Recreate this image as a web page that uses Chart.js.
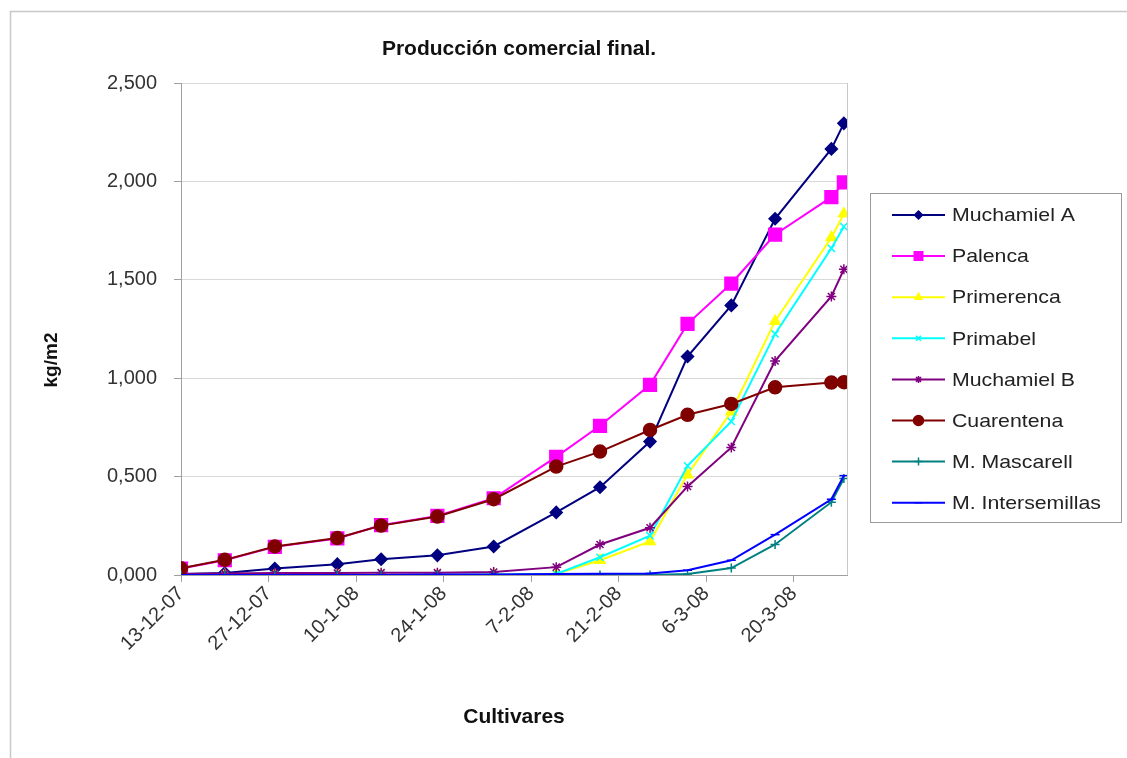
<!DOCTYPE html>
<html><head><meta charset="utf-8">
<script src="https://cdn.jsdelivr.net/npm/chart.js@4.4.1/dist/chart.umd.min.js"></script>
<style>html,body{margin:0;padding:0;background:#fff;overflow:hidden}#wrap{position:absolute;left:0;top:0;width:1127px;height:758px}</style>
</head><body><div id="wrap"><canvas id="c" width="1127" height="758"></canvas></div>
<script>
// ---- data ----
const startDate = '2007-12-13';
const dates = ['2007-12-13','2007-12-20','2007-12-28','2008-01-07','2008-01-14','2008-01-23','2008-02-01','2008-02-11','2008-02-18','2008-02-26','2008-03-03','2008-03-10','2008-03-17','2008-03-26','2008-03-28'];
const seriesNames = ['Muchamiel A','Palenca','Primerenca','Primabel','Muchamiel B','Cuarentena','M. Mascarell','M. Intersemillas'];
const muchamielA   = [0.005,0.010,0.033,0.055,0.080,0.100,0.145,0.318,0.446,0.678,1.110,1.370,1.810,2.165,2.295];
const palenca      = [0.033,0.075,0.143,0.186,0.253,0.300,0.390,0.600,0.758,0.966,1.276,1.481,1.730,1.920,1.995];
const primerenca   = [0.000,0.000,0.000,0.000,0.000,0.000,0.002,0.005,0.075,0.170,0.510,0.830,1.290,1.715,1.835];
const primabel     = [0.000,0.000,0.000,0.000,0.000,0.000,0.002,0.005,0.090,0.200,0.555,0.780,1.225,1.660,1.770];
const muchamielB   = [0.005,0.008,0.010,0.010,0.012,0.012,0.015,0.040,0.155,0.240,0.450,0.648,1.088,1.415,1.553];
const cuarentena   = [0.034,0.077,0.145,0.188,0.251,0.297,0.385,0.551,0.627,0.737,0.814,0.869,0.954,0.978,0.980];
const mMascarell   = [0.000,0.000,0.000,0.000,0.000,0.000,0.000,0.000,0.000,0.000,0.005,0.035,0.155,0.370,0.490];
const mIntersem    = [0.000,0.000,0.000,0.000,0.000,0.002,0.003,0.005,0.006,0.008,0.024,0.075,0.205,0.385,0.505];
const yTicks = [0, 0.5, 1, 1.5, 2, 2.5];
const xTickStepDays = 14;
const xMaxDays = 106.5;
const chartTitle = 'Producción comercial final.';
const xTitle = 'Cultivares';
const yTitle = 'kg/m2';

// ---- styling ----
const seriesValues = [muchamielA,palenca,primerenca,primabel,muchamielB,cuarentena,mMascarell,mIntersem];
const colors = ['#000080','#FF00FF','#FFFF00','#00FFFF','#800080','#800000','#008080','#0000FF'];
const pStyles = ['rectRot','rect','triangle','crossRot','star','circle','cross','line'];
const pRadius = [6,9,6,5,5,6.5,4.5,4.5];
const legendRadius = [4,6,4,3.5,3.5,5,4,4];
const FONT = '"Liberation Sans", Arial, sans-serif';

const DAY = 86400000;
const t0 = Date.parse(startDate);
const dayOffsets = dates.map(d => (Date.parse(d) - t0) / DAY);

function fmtDate(days) {
  const d = new Date(t0 + days * DAY);
  return d.getUTCDate() + '-' + (d.getUTCMonth() + 1) + '-' + String(d.getUTCFullYear()).slice(2);
}

const datasets = seriesNames.map((name, i) => ({
  label: name,
  data: dayOffsets.map((x, j) => ({x: x, y: seriesValues[i][j]})),
  borderColor: colors[i],
  backgroundColor: colors[i],
  pointBackgroundColor: colors[i],
  pointBorderColor: colors[i],
  borderWidth: 2,
  pointStyle: pStyles[i],
  pointRadius: pRadius[i],
  pointBorderWidth: 1.5,
  tension: 0,
  order: seriesNames.length - i
}));

const framePlugin = {
  id: 'frame',
  beforeDraw(chart) {
    const ctx = chart.ctx;
    ctx.save();
    ctx.fillStyle = '#fff';
    ctx.fillRect(0, 0, chart.width, chart.height);
    ctx.strokeStyle = '#c8c8c8';
    ctx.lineWidth = 1.5;
    ctx.strokeRect(10.5, 11.5, 2000, 2000);
    ctx.restore();
  },
  afterDraw(chart) {
    const ctx = chart.ctx;
    const a = chart.chartArea;
    ctx.save();
    ctx.strokeStyle = '#c8c8c8';
    ctx.lineWidth = 1;
    ctx.beginPath();
    ctx.moveTo(Math.round(a.right) + 0.5, a.top);
    ctx.lineTo(Math.round(a.right) + 0.5, a.bottom);
    ctx.stroke();
    // chart title
    ctx.fillStyle = '#111';
    ctx.font = 'bold 21px ' + FONT;
    ctx.textAlign = 'center';
    ctx.textBaseline = 'middle';
    ctx.fillText(chartTitle, 519, 49);
    // y axis title
    ctx.font = 'bold 19px ' + FONT;
    ctx.translate(52, 360);
    ctx.rotate(-Math.PI / 2);
    ctx.fillText(yTitle, 0, 0);
    ctx.restore();

    // legend
    ctx.save();
    ctx.strokeStyle = '#9a9a9a';
    ctx.lineWidth = 1;
    ctx.strokeRect(870.5, 193.5, 251, 329);
    chart.data.datasets.forEach((ds, i) => {
      const y = 215 + i * 41.1;
      ctx.strokeStyle = ds.borderColor;
      ctx.lineWidth = 2;
      ctx.beginPath();
      ctx.moveTo(892, y);
      ctx.lineTo(945, y);
      ctx.stroke();
      ctx.fillStyle = ds.borderColor;
      ctx.strokeStyle = ds.borderColor;
      ctx.lineWidth = 1.5;
      if (Chart.helpers && Chart.helpers.drawPoint) {
        Chart.helpers.drawPoint(ctx, {pointStyle: ds.pointStyle, radius: legendRadius[i], rotation: 0, borderWidth: 1.5}, 918.5, y);
      }
      ctx.save();
      ctx.fillStyle = '#222';
      ctx.font = '19px ' + FONT;
      ctx.textAlign = 'left';
      ctx.textBaseline = 'middle';
      ctx.translate(952, y + 1);
      ctx.scale(1.12, 1);
      ctx.fillText(ds.label, 0, 0);
      ctx.restore();
    });
    ctx.restore();
  }
};

new Chart(document.getElementById('c'), {
  type: 'line',
  data: {datasets},
  options: {
    responsive: false,
    animation: false,
    devicePixelRatio: 1,
    layout: {padding: {left: 0, right: 280, top: 83, bottom: 0}},
    plugins: {
      legend: {display: false},
      tooltip: {enabled: false},
      title: {display: false}
    },
    scales: {
      x: {
        type: 'linear',
        min: 0,
        max: xMaxDays,
        afterFit(s) { s.height = 183; },
        ticks: {
          stepSize: xTickStepDays,
          includeBounds: false,
          autoSkip: false,
          minRotation: 45,
          maxRotation: 45,
          padding: 0,
          color: '#333',
          font: {family: FONT, size: 20},
          callback: v => fmtDate(v)
        },
        grid: {drawOnChartArea: false, drawTicks: true, tickLength: 7, tickColor: '#a0a0a0'},
        border: {color: '#a0a0a0', width: 1},
        title: {
          display: true,
          text: xTitle,
          color: '#111',
          font: {family: FONT, size: 21, weight: 'bold'},
          padding: {top: 0, bottom: 28}
        }
      },
      y: {
        min: 0,
        max: 2.5,
        afterFit(s) { s.width = 181; },
        afterBuildTicks(s) { s.ticks = yTicks.map(v => ({value: v})); },
        ticks: {
          stepSize: 0.5,
          padding: 17,
          color: '#333',
          font: {family: FONT, size: 20},
          callback: v => Number(v).toFixed(3).replace('.', ',')
        },
        grid: {color: '#d9d9d9', lineWidth: 1, drawTicks: true, tickLength: 7, tickColor: '#a0a0a0'},
        border: {color: '#a0a0a0', width: 1}
      }
    }
  },
  plugins: [framePlugin]
});
</script>
</body></html>
